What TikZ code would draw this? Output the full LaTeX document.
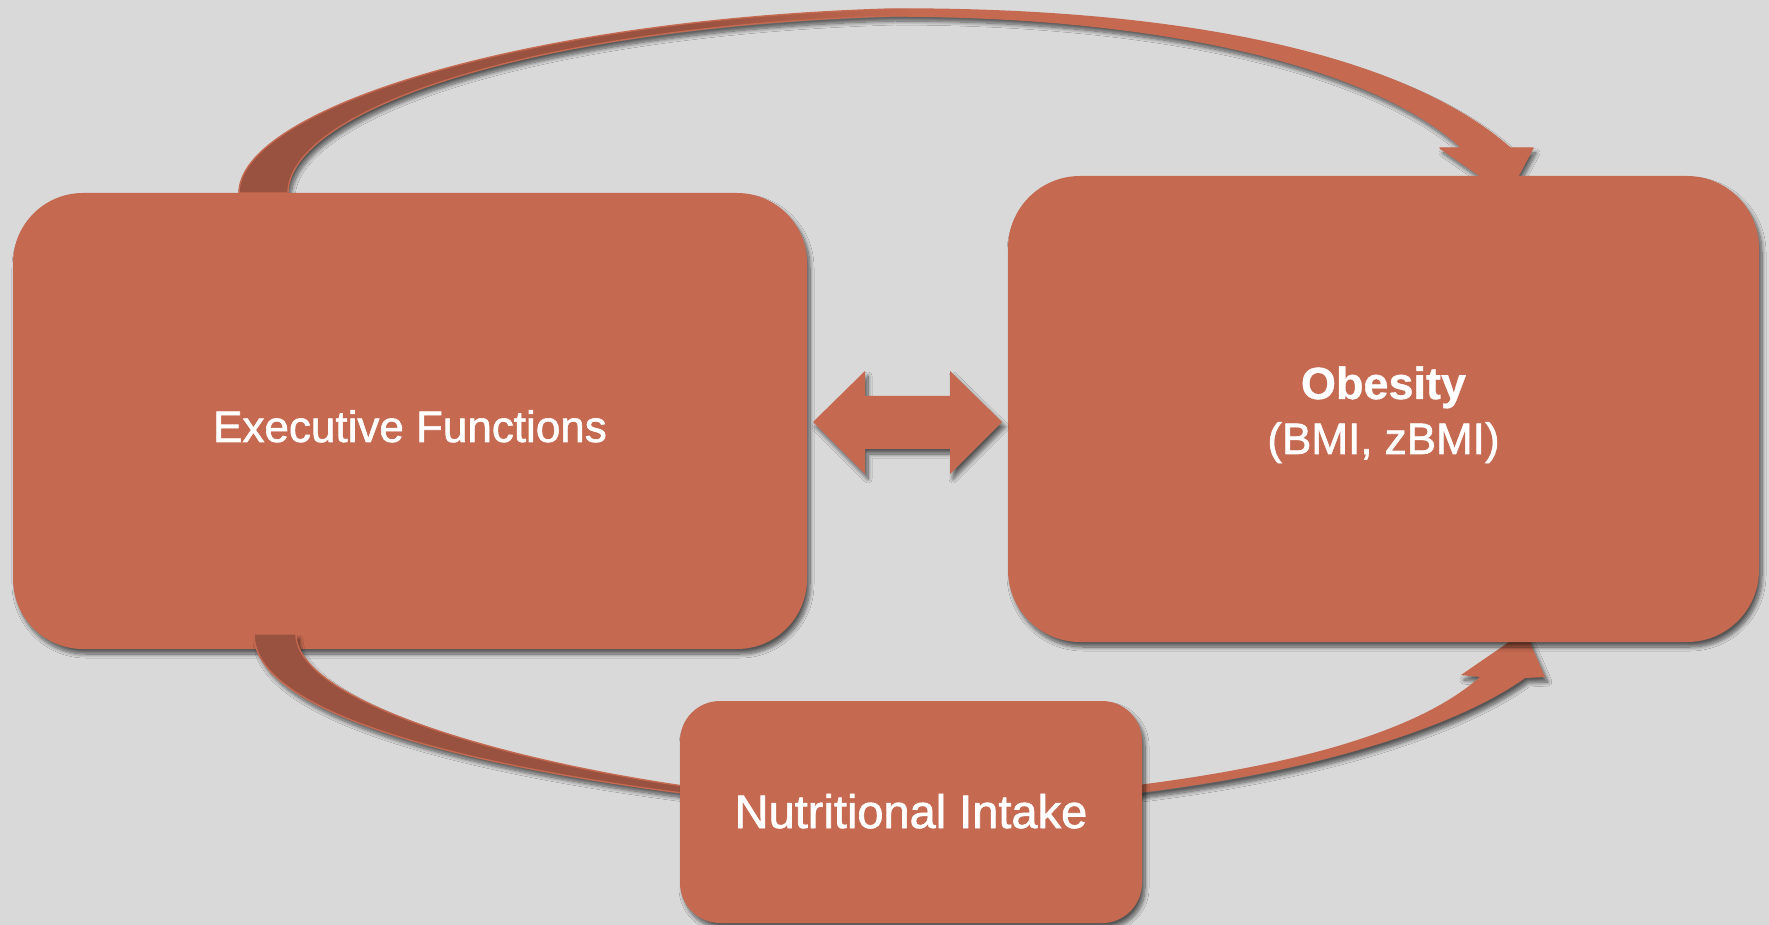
\documentclass[tikz,border=0pt]{standalone}
\usepackage{fontspec}
\setmainfont{Liberation Sans}
\newfontfamily\labelfont{Liberation Sans}[FakeBold=1.4]
\newfontfamily\headfont{Liberation Sans Bold}[FakeBold=0.8]
\usetikzlibrary{shadows.blur}

\definecolor{bg}{HTML}{D9D9D9}
\definecolor{brick}{HTML}{C56950}
\definecolor{brickdark}{HTML}{9A5240}

% dark underside on the left, plain brick towards the head
\pgfdeclarehorizontalshading{bandshade}{100bp}{%
  color(0bp)=(brickdark); color(43bp)=(brickdark);
  color(51bp)=(brick); color(100bp)=(brick)}

\tikzset{
  soft shadow/.style={blur shadow={shadow xshift=1.5pt, shadow yshift=-2.5pt,
      shadow blur radius=2pt, shadow blur steps=10, shadow opacity=60}},
  box/.style={fill=brick, draw=none, inner sep=0pt, outer sep=0pt,
      soft shadow, text=white, align=center},
  band/.style={draw=brick, line width=0.7pt, line join=round, soft shadow},
  label/.style={text=white, anchor=base,
      font=\labelfont\fontsize{22pt}{24pt}\selectfont}
}

\begin{document}
\begin{tikzpicture}[x=0.5pt, y=-0.5pt]
  \fill[bg] (0,0) rectangle (1769,925);
  \useasboundingbox (0,0) rectangle (1769,925);

  % long arc over the top, into the obesity box
  \path[band, shade, shading=bandshade]
    (239,193) .. controls (239,110) and (520,20) .. (891,9)
    .. controls (1200,8) and (1410,60) .. (1510,148)
    -- (1533,148) -- (1508,195) -- (1440,148) -- (1462,148)
    .. controls (1380,72) and (1180,16) .. (891,16)
    .. controls (525,27) and (288,112) .. (288,193) -- cycle;

  % lower arc from nutritional intake up to obesity
  \path[band, fill=brick, draw=none]
    (1130,786) .. controls (1300,765) and (1420,730) .. (1480,677)
    -- (1461,675) -- (1525,631) -- (1545,677) -- (1525,678)
    .. controls (1460,725) and (1320,772) .. (1130,794) -- cycle;

  \node[box, minimum width=397pt, minimum height=228pt, rounded corners=35pt]
    (ef) at (410,421) {};

  % lower arc from executive functions to nutritional intake
  \path[band, fill=brickdark]
    (254,634) .. controls (254,720) and (500,770) .. (690,794)
    -- (690,787) .. controls (500,760) and (296,700) .. (296,634) -- cycle;

  \node[box, minimum width=231pt, minimum height=111pt, rounded corners=20pt]
    (ni) at (911,812) {};
  \node[box, minimum width=375.5pt, minimum height=233pt, rounded corners=36pt]
    (ob) at (1383.5,409) {};

  % two-headed arrow between the boxes
  \path[fill=brick, soft shadow]
    (813,422) -- (865,371) -- (865,396) -- (950,396) -- (950,371)
    -- (1002,422) -- (950,474) -- (950,449) -- (865,449) -- (865,474) -- cycle;

  \node[label] (eft) at (410,442) {Executive Functions};
  \node[label, font=\headfont\fontsize{22.5pt}{24pt}\selectfont]
    (obt) at (1383.5,399) {Obesity};
  \node[label] (obs) at (1383.5,454) {(BMI, zBMI)};
  \node[label, font=\labelfont\fontsize{23.5pt}{26pt}\selectfont]
    (nit) at (911,828) {Nutritional Intake};
\end{tikzpicture}
\end{document}
